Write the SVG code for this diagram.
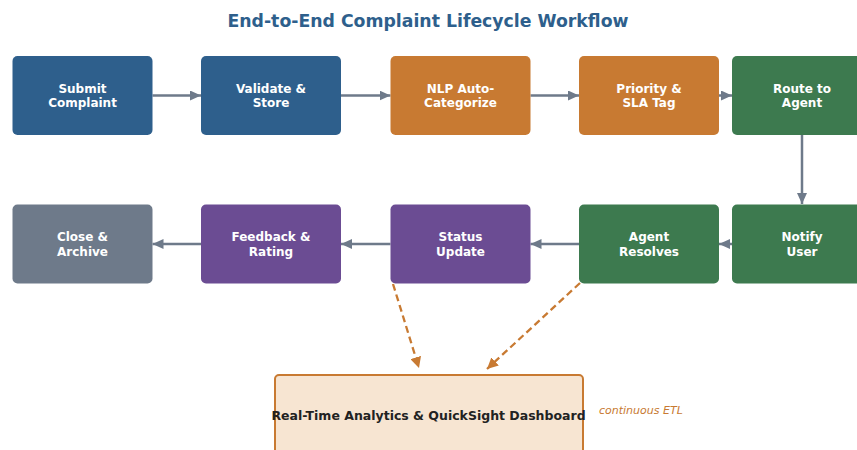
<svg xmlns="http://www.w3.org/2000/svg" width="857" height="450" viewBox="0 0 857 450">
<style>
.box{stroke:none}
.lbl{font-family:"DejaVu Sans",sans-serif;font-weight:bold;font-size:12px;fill:#ffffff;text-anchor:middle}
.flow{stroke:#6e7a8a;stroke-width:2.5;fill:none;marker-end:url(#ah)}
.dash{stroke:#c87a32;stroke-width:2.3;fill:none;stroke-dasharray:7,4;marker-end:url(#ahO)}
</style>
<defs>
<marker id="ah" viewBox="0 0 11 10" refX="11" refY="5" markerWidth="11" markerHeight="10" markerUnits="userSpaceOnUse" orient="auto">
<path d="M0,0 L11,5 L0,10 Z" fill="#6e7a8a"/>
</marker>
<marker id="ahO" viewBox="0 0 11 11" refX="11" refY="5.5" markerWidth="11" markerHeight="11" markerUnits="userSpaceOnUse" orient="auto">
<path d="M0,0 L11,5.5 L0,11 Z" fill="#c87a32"/>
</marker>
</defs>
<rect width="857" height="450" fill="#ffffff"/>
<text x="428" y="27" font-family="DejaVu Sans,sans-serif" font-weight="bold" font-size="17.3" fill="#2e5f8c" text-anchor="middle">End-to-End Complaint Lifecycle Workflow</text>
<g id="connectors">
<line class="flow" x1="152.5" y1="95.5" x2="201" y2="95.5"/>
<line class="flow" x1="341" y1="95.5" x2="390.5" y2="95.5"/>
<line class="flow" x1="530.5" y1="95.5" x2="579" y2="95.5"/>
<line class="flow" x1="719" y1="95.5" x2="732" y2="95.5"/>
<line class="flow" x1="802" y1="135" x2="802" y2="204"/>
<line class="flow" x1="732" y1="244" x2="719" y2="244"/>
<line class="flow" x1="579" y1="244" x2="530.5" y2="244"/>
<line class="flow" x1="390.5" y1="244" x2="341" y2="244"/>
<line class="flow" x1="201" y1="244" x2="152.5" y2="244"/>
<path class="dash" d="M393,284 L419,368"/>
<path class="dash" d="M580,283 L487,369"/>
</g>
<g id="n1"><rect class="box" x="12.5" y="56" width="140" height="79" rx="5" fill="#2e5f8c"/><text class="lbl" x="82.5" y="92.5">Submit</text><text class="lbl" x="82.5" y="107">Complaint</text></g>
<g id="n2"><rect class="box" x="201" y="56" width="140" height="79" rx="5" fill="#2e5f8c"/><text class="lbl" x="271" y="92.5">Validate &amp;</text><text class="lbl" x="271" y="107">Store</text></g>
<g id="n3"><rect class="box" x="390.5" y="56" width="140" height="79" rx="5" fill="#c87a32"/><text class="lbl" x="460.5" y="92.5">NLP Auto-</text><text class="lbl" x="460.5" y="107">Categorize</text></g>
<g id="n4"><rect class="box" x="579" y="56" width="140" height="79" rx="5" fill="#c87a32"/><text class="lbl" x="649" y="92.5">Priority &amp;</text><text class="lbl" x="649" y="107">SLA Tag</text></g>
<g id="n5"><rect class="box" x="732" y="56" width="140" height="79" rx="5" fill="#3d7a4f"/><text class="lbl" x="802" y="92.5">Route to</text><text class="lbl" x="802" y="107">Agent</text></g>
<g id="n6"><rect class="box" x="732" y="204.5" width="140" height="79" rx="5" fill="#3d7a4f"/><text class="lbl" x="802" y="241">Notify</text><text class="lbl" x="802" y="255.5">User</text></g>
<g id="n7"><rect class="box" x="579" y="204.5" width="140" height="79" rx="5" fill="#3d7a4f"/><text class="lbl" x="649" y="241">Agent</text><text class="lbl" x="649" y="255.5">Resolves</text></g>
<g id="n8"><rect class="box" x="390.5" y="204.5" width="140" height="79" rx="5" fill="#6b4c93"/><text class="lbl" x="460.5" y="241">Status</text><text class="lbl" x="460.5" y="255.5">Update</text></g>
<g id="n9"><rect class="box" x="201" y="204.5" width="140" height="79" rx="5" fill="#6b4c93"/><text class="lbl" x="271" y="241">Feedback &amp;</text><text class="lbl" x="271" y="255.5">Rating</text></g>
<g id="n10"><rect class="box" x="12.5" y="204.5" width="140" height="79" rx="5" fill="#6e7a8a"/><text class="lbl" x="82.5" y="241">Close &amp;</text><text class="lbl" x="82.5" y="255.5">Archive</text></g>
<g id="n11"><rect x="275" y="375" width="308" height="90" rx="4" fill="#f7e5d2" stroke="#c87a32" stroke-width="2"/><text x="428.5" y="419.5" font-family="DejaVu Sans,sans-serif" font-weight="bold" font-size="12.5" fill="#222222" text-anchor="middle">Real-Time Analytics &amp; QuickSight Dashboard</text></g>
<text x="599" y="414" font-family="DejaVu Sans,sans-serif" font-style="italic" font-size="11" fill="#c87a32">continuous ETL</text>
</svg>
